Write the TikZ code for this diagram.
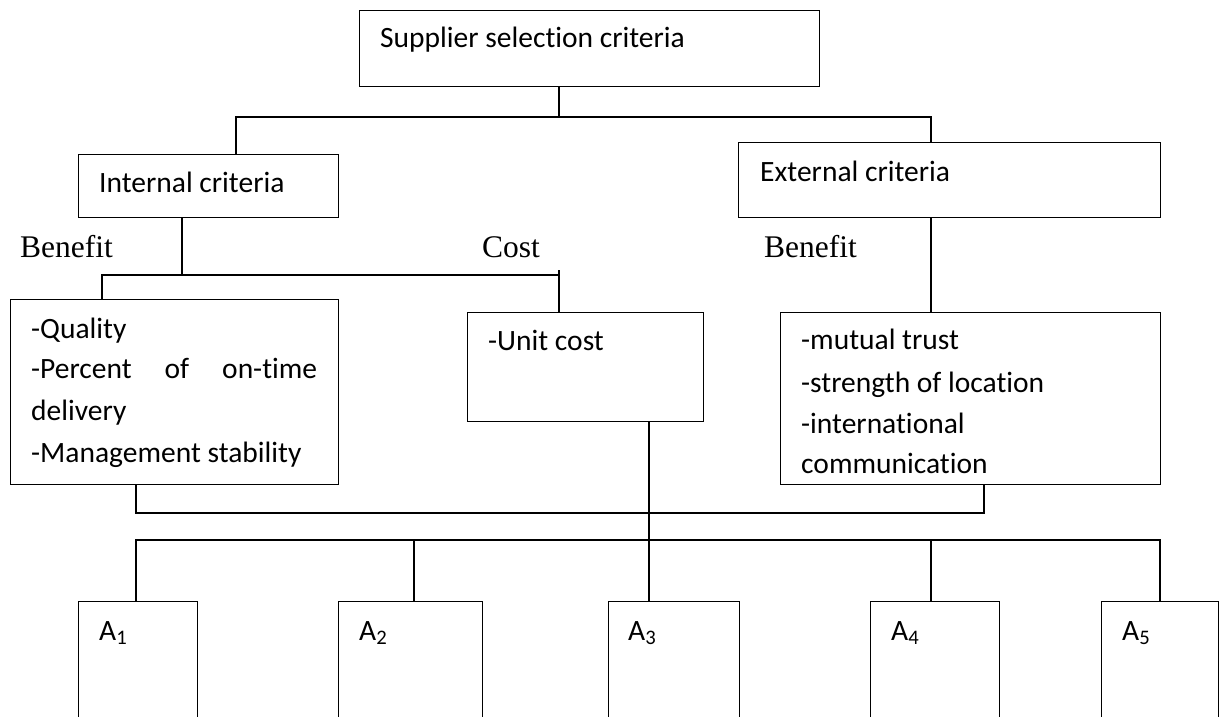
\documentclass[tikz,border=0pt]{standalone}
\usepackage{fontspec}
\setmainfont{Carlito}[Ligatures={NoCommon}]
\newfontfamily\serifface{Liberation Serif}
\begin{document}
\begin{tikzpicture}[x=1pt,y=-1pt,
  box/.style={draw, line width=1.2pt, inner sep=0pt, anchor=north west},
  link/.style={line width=1.2pt},
  txt/.style={inner sep=0pt, anchor=base west, font=\fontsize{29.5}{41}\selectfont},
  kind/.style={inner sep=0pt, anchor=base west, font=\serifface\fontsize{31.5}{36}\selectfont}]
\useasboundingbox (0,0) rectangle (1220,717);
\clip (0,0) rectangle (1220,717);

% boxes
\node[box, minimum width=460pt, minimum height=76pt]  (top)  at (359,10)  {};
\node[box, minimum width=260pt, minimum height=63pt]  (int)  at (78,154)  {};
\node[box, minimum width=422pt, minimum height=75pt]  (ext)  at (738,142) {};
\node[box, minimum width=328pt, minimum height=185pt] (qual) at (10,299)  {};
\node[box, minimum width=236pt, minimum height=109pt] (unit) at (467,312) {};
\node[box, minimum width=380pt, minimum height=172pt] (extl) at (780,312) {};
\node[box, minimum width=119pt, minimum height=140pt] (A1) at (78,601)   {};
\node[box, minimum width=144pt, minimum height=140pt] (A2) at (338,601)  {};
\node[box, minimum width=131pt, minimum height=140pt] (A3) at (608,601)  {};
\node[box, minimum width=129pt, minimum height=140pt] (A4) at (870,601)  {};
\node[box, minimum width=117pt, minimum height=140pt] (A5) at (1101,601) {};

% texts
\node[txt] (ttop) at (380,48)  {Supplier selection criteria};
\node[txt] (tint) at (99,192)  {Internal criteria};
\node[txt] (text) at (760,181) {External criteria};
\node[kind] (b1) at (20,257)  {Benefit};
\node[kind] (c1) at (482,257) {Cost};
\node[kind] (b2) at (764,257) {Benefit};

\node[txt] (q1) at (31,338) {-Quality};
\node[txt] (q2) at (31,378) {\makebox[286pt][s]{-Percent\hfill of\hfill on-time}};
\node[txt] (q3) at (31,420) {delivery};
\node[txt] (q4) at (31,462) {-Management stability};

\node[txt] (u1) at (488,350) {-Unit cost};

\node[txt] (e1) at (801,349) {-mutual trust};
\node[txt] (e2) at (801,392) {-strength of location};
\node[txt] (e3) at (801,433) {-international};
\node[txt] (e4) at (801,473) {communication};

\node[txt] (a1) at (99,640)   {A\textsubscript{1}};
\node[txt] (a2) at (359,640)  {A\textsubscript{2}};
\node[txt] (a3) at (628,640)  {A\textsubscript{3}};
\node[txt] (a4) at (891,640)  {A\textsubscript{4}};
\node[txt] (a5) at (1122,640) {A\textsubscript{5}};

% junction points
\coordinate (tl) at (236,117);
\coordinate (tm) at (559,117);
\coordinate (tr) at (931,117);
\coordinate (il) at (102,275);
\coordinate (im) at (182,275);
\coordinate (ir) at (559,275);
\coordinate (bl) at (136,513);
\coordinate (br) at (984,513);
\coordinate (hl) at (136,540);
\coordinate (h2) at (414,540);
\coordinate (um) at (649,540);
\coordinate (h4) at (931,540);
\coordinate (hr) at (1160,540);

% connectors
\draw[link] (top.south -| tm) -- (tm);
\draw[link] (int.north -| tl) -- (tl) -- (tr) -- (ext.north -| tr);
\draw[link] (int.south -| im) -- (im);
\draw[link] (qual.north -| il) -- (il) -- (ir);
\draw[link] ([yshift=5pt]ir) -- (unit.north -| ir);
\draw[link] (ext.south -| tr) -- (extl.north -| tr);
\draw[link] (qual.south -| bl) -- (bl) -- (br) -- (extl.south -| br);
\draw[link] (unit.south -| um) -- (A3.north -| um);
\draw[link] (A1.north -| hl) -- (hl) -- (hr) -- (A5.north -| hr);
\draw[link] (h2) -- (A2.north -| h2);
\draw[link] (h4) -- (A4.north -| h4);
\end{tikzpicture}
\end{document}
